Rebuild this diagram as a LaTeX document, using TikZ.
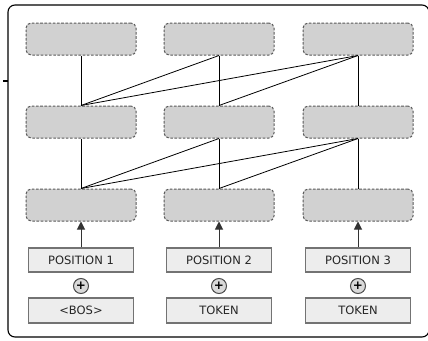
\documentclass[tikz,border=0pt]{standalone}
\usepackage{fontspec}
\setmainfont{DejaVu Sans}
\usetikzlibrary{arrows.meta}
\begin{document}
\begin{tikzpicture}[x=1pt,y=-1pt,
  layer/.style={draw=black!65, fill=black!18, dash pattern=on 2.6pt off 1.6pt,
    line width=1pt, rounded corners=5pt, minimum width=110pt, minimum height=32pt, inner sep=0pt},
  embbox/.style={draw=black!55, fill=black!7, line width=1.1pt, text=black!85,
    minimum width=105pt, minimum height=24pt, inner sep=0pt, font=\fontsize{11.5}{13}\selectfont},
  plus/.style={circle, draw=black!70, fill=black!15, line width=1pt, minimum size=15pt,
    inner sep=0pt, font=\bfseries\fontsize{12}{12}\selectfont},
  link/.style={draw=black, line width=0.8pt},
  feed/.style={draw=black!80, line width=1pt, -{Triangle[width=8pt,length=8pt]}}]
\useasboundingbox (0,0) rectangle (428,340);
% outer frame and left tick
\draw[line width=1.1pt, rounded corners=7pt] (8,5) rectangle (429,337);
\draw[line width=1.1pt] (3,81) -- (8,81);
% attention layers
\foreach \r/\y in {1/39,2/122,3/205}{
  \foreach \c/\x in {1/81,2/219,3/358}{
    \node[layer] (b\r\c) at (\x,\y) {};
  }
}
% causal connections between layers
\foreach \r/\s in {1/2,2/3}{
  \foreach \c in {1,2,3}{
    \foreach \d in {1,...,\c}{
      \draw[link] (b\r\c.south) -- (b\s\d.north);
    }
  }
}
% inputs
\foreach \c/\x/\t in {1/81/{<BOS>},2/219/TOKEN,3/358/TOKEN}{
  \node[embbox] (p\c) at (\x,260) {POSITION \c};
  \node[plus] (s\c) at (\x,286) {+};
  \node[embbox, minimum height=25pt] (t\c) at (\x,310.5) {\t};
  \draw[feed] (p\c.north) -- (b3\c.south);
}
\end{tikzpicture}
\end{document}
